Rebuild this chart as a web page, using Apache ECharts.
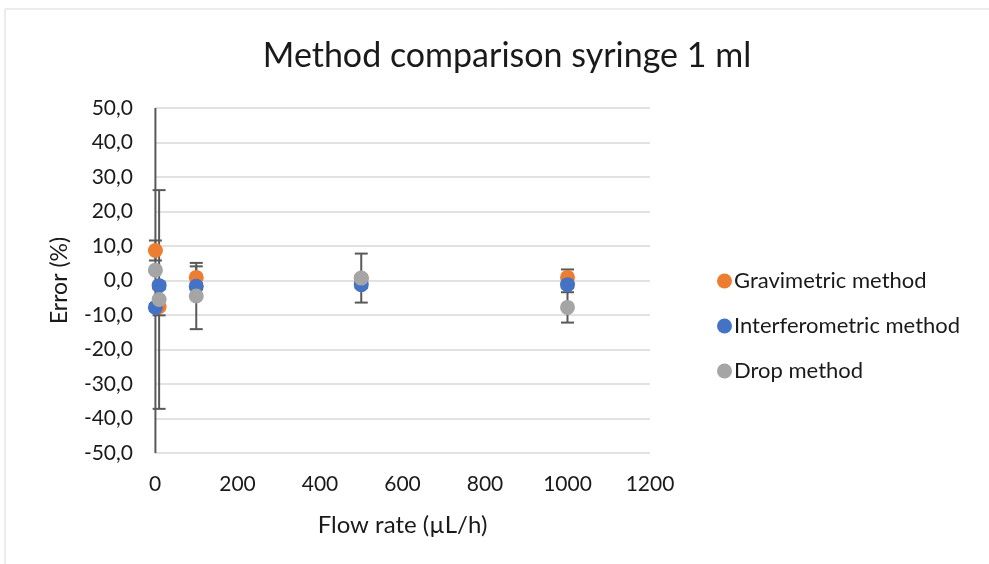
<!DOCTYPE html>
<html>
<head>
<meta charset="utf-8">
<script src="https://cdn.jsdelivr.net/npm/echarts@6/dist/echarts.min.js"></script>
<style>
  html, body { margin: 0; padding: 0; background: #fff; }
  #b { width: 989px; height: 564px; }
</style>
</head>
<body>
<div id="b"></div>
<script>
// flow rates (µL/h)
var flowRates = [1, 10, 100, 500, 1000];
// error (%) per method, with error bar half-widths
var gravimetric = [8.7, -7.6, 0.9, 0.6, 0.9];
var gravimetricErr = [2.9, 2.5, 3.2, 1.0, 2.3];
var interferometric = [-7.8, -1.5, -1.7, -1.2, -1.2];
var interferometricErr = [1.0, 1.0, 1.0, 1.0, 1.0];
var drop = [3.0, -5.5, -4.5, 0.7, -7.8];
var dropErr = [60, 31.7, 9.6, 7.1, 4.4];
var names = ['Gravimetric method', 'Interferometric method', 'Drop method'];
var colors = ['#ED7D31', '#4472C4', '#A5A5A5'];

var yMin = -50, yMax = 50;
var font = 'Lato, "Open Sans", sans-serif';

function pts(vals){
  return flowRates.map(function(f, i){ return [f, vals[i]]; });
}
function errData(vals, errs){
  return flowRates.map(function(f, i){ return [f, vals[i] - errs[i], vals[i] + errs[i]]; });
}

// error bars drawn with the library's coords, clipped to the axis range
function renderErr(params, api){
  var x = api.value(0);
  var lo = api.value(1), hi = api.value(2);
  var loC = Math.max(lo, yMin), hiC = Math.min(hi, yMax);
  var pLo = api.coord([x, loC]);
  var pHi = api.coord([x, hiC]);
  var w = 6.5;
  var st = { stroke: '#595959', lineWidth: 2 };
  var ch = [{ type: 'line', shape: { x1: pLo[0], y1: pLo[1], x2: pHi[0], y2: pHi[1] }, style: st }];
  if (lo >= yMin) ch.push({ type: 'line', shape: { x1: pLo[0] - w, y1: pLo[1], x2: pLo[0] + w, y2: pLo[1] }, style: st });
  if (hi <= yMax) ch.push({ type: 'line', shape: { x1: pHi[0] - w, y1: pHi[1], x2: pHi[0] + w, y2: pHi[1] }, style: st });
  return { type: 'group', children: ch };
}

var myChart = echarts.init(document.getElementById('b'));
var series = [];
var vals = [gravimetric, interferometric, drop];
var errs = [gravimetricErr, interferometricErr, dropErr];
for (var i = 0; i < 3; i++) {
  series.push({
    name: names[i] + ' err',
    type: 'custom',
    renderItem: renderErr,
    data: errData(vals[i], errs[i]),
    encode: { x: 0, y: [1, 2] },
    z: 1,
    silent: true
  });
}
for (var j = 0; j < 3; j++) {
  series.push({
    name: names[j],
    type: 'scatter',
    data: pts(vals[j]),
    symbol: 'circle',
    symbolSize: 15,
    itemStyle: { color: colors[j], opacity: 1 },
    z: 3 + j
  });
}

option = {
  animation: false,
  textStyle: { fontFamily: font },
  graphic: [{
    type: 'rect',
    shape: { x: 5, y: 9, width: 990, height: 560 },
    style: { fill: 'none', stroke: '#d9d9d9', lineWidth: 1 }
  }],
  title: {
    text: 'Method comparison syringe 1 ml',
    left: 502, top: 34, textAlign: 'center',
    textStyle: { fontFamily: font, fontSize: 34, fontWeight: 'normal', color: '#1a1a1a' }
  },
  grid: { left: 155, right: 339, top: 108, bottom: 111 },
  xAxis: {
    type: 'value', min: 0, max: 1200, interval: 200,
    name: 'Flow rate (µL/h)', nameLocation: 'middle', nameGap: 60,
    nameTextStyle: { fontFamily: font, fontSize: 24, color: '#1a1a1a' },
    axisLine: { show: false }, axisTick: { show: false },
    axisLabel: {
      fontFamily: font, fontSize: 21, color: '#1a1a1a', margin: 21,
      formatter: function(v){ return String(v); }
    },
    splitLine: { show: false }
  },
  yAxis: {
    type: 'value', min: yMin, max: yMax, interval: 10,
    name: 'Error (%)', nameLocation: 'middle', nameGap: 84,
    nameTextStyle: { fontFamily: font, fontSize: 23, color: '#1a1a1a' },
    axisLine: { show: false }, axisTick: { show: false },
    axisLabel: {
      fontFamily: font, fontSize: 21, color: '#1a1a1a', margin: 22,
      formatter: function(v){ return v.toFixed(1).replace('.', ','); }
    },
    splitLine: { lineStyle: { color: '#d9d9d9', width: 1.5 } }
  },
  legend: {
    data: names,
    orient: 'vertical', left: 712, top: 265, itemGap: 23,
    icon: 'circle', itemWidth: 15, itemHeight: 15,
    textStyle: { fontFamily: font, fontSize: 22, color: '#1a1a1a', padding: [0, 0, 0, -3] }
  },
  series: series
};
option && myChart.setOption(option);
</script>
</body>
</html>
